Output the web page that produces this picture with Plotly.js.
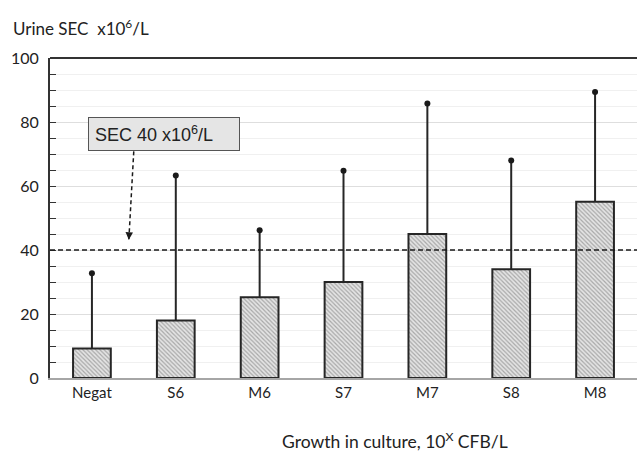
<!DOCTYPE html>
<html>
<head>
<meta charset="utf-8">
<script src="https://cdn.plot.ly/plotly-3.0.1.min.js"></script>
<style>html,body{margin:0;padding:0;background:#fff;}#chart{width:638px;height:452px;}</style>
</head>
<body>
<div id="chart"></div>
<script>
const categories = ["Negat", "S6", "M6", "S7", "M7", "S8", "M8"];
const meanValues = [9.2, 18, 25.2, 30, 45, 34, 55.1];
const upperValues = [32.7, 63.3, 46.2, 64.8, 85.8, 68, 89.4];
const thresholdValue = 40;
const yTicks = [0, 20, 40, 60, 80, 100];

const errPlus = upperValues.map((u, i) => u - meanValues[i]);

const barTrace = {
  type: "bar",
  x: categories,
  y: meanValues,
  width: 0.45,
  marker: {
    color: "#d9d9d9",
    line: { color: "#262626", width: 2 },
    pattern: { shape: "\\", fgcolor: "#a8a8a8", bgcolor: "#e4e4e4", size: 3, solidity: 0.4 }
  },
  error_y: {
    type: "data", symmetric: false, array: errPlus, arrayminus: categories.map(() => 0),
    width: 0, thickness: 2, color: "#262626"
  },
  hoverinfo: "none",
  showlegend: false
};

const dotTrace = {
  type: "scatter",
  mode: "markers",
  x: categories,
  y: upperValues,
  marker: { color: "#1a1a1a", size: 6 },
  hoverinfo: "none",
  showlegend: false,
  cliponaxis: false
};

const layout = {
  width: 638,
  height: 452,
  margin: { l: 50, r: 1, t: 58, b: 74 },
  paper_bgcolor: "#fff",
  plot_bgcolor: "#fff",
  font: { family: "Lato, 'Open Sans', sans-serif", color: "#222", size: 15 },
  xaxis: {
    type: "category",
    showline: true, linecolor: "#a6a6a6", linewidth: 2,
    ticks: "", showgrid: false, zeroline: false,
    tickfont: { size: 15, family: "Lato, 'Open Sans', sans-serif", color: "#222" },
    range: [-0.5, 6.5], fixedrange: true
  },
  yaxis: {
    range: [0, 100],
    tickvals: yTicks,
    ticks: "inside", ticklen: 6, tickcolor: "#333", tickwidth: 1,
    showline: true, linecolor: "#333", linewidth: 2,
    showgrid: true, gridcolor: "#dedede", gridwidth: 1,
    zeroline: false,
    tickfont: { size: 16, family: "Lato, 'Open Sans', sans-serif", color: "#222" },
    minor: { dtick: 5, tick0: 0, showgrid: true, gridcolor: "#f0f0f0", gridwidth: 1, ticks: "inside", ticklen: 6, tickcolor: "#333" },
    ticklabelstandoff: 6,
    fixedrange: true
  },
  shapes: [
    { type: "line", xref: "paper", x0: 0, x1: 1, yref: "y", y0: thresholdValue, y1: thresholdValue,
      line: { color: "#1a1a1a", width: 1.6, dash: "5px,3px" }, layer: "above" },
    { type: "line", xref: "paper", x0: 0, x1: 1, yref: "paper", y0: 1, y1: 1,
      line: { color: "#333", width: 2 } }
  ],
  annotations: [
    { text: "Urine SEC  x10<sup>6</sup>/L", xref: "paper", yref: "paper", x: -0.066, y: 1.094,
      xanchor: "left", yanchor: "middle", showarrow: false, font: { size: 17, family: "Lato, 'Open Sans', sans-serif", color: "#222" } },
    { text: "Growth in culture, 10<sup>X</sup> CFB/L", xref: "paper", yref: "paper", x: 0.587, y: -0.194,
      xanchor: "center", yanchor: "middle", showarrow: false, font: { size: 17.5, family: "Lato, 'Open Sans', sans-serif", color: "#222" } },
    { text: "SEC 40 x10<sup>6</sup>/L", xref: "paper", yref: "y", x: 0.064, y: 76.2,
      xanchor: "left", yanchor: "middle", showarrow: false,
      bgcolor: "#e5e5e5", bordercolor: "#555", borderwidth: 1, borderpad: 6, width: 138, height: 20, align: "left",
      font: { size: 18, family: "'Liberation Sans', Arial, sans-serif", color: "#222" } },
    { text: "", xref: "x", yref: "y", x: 0.44, y: 43.2, ax: 0.5, ay: 71.3, axref: "x", ayref: "y",
      showarrow: true, arrowhead: 2, arrowsize: 1, arrowwidth: 1.5, arrowcolor: "#1a1a1a",
      standoff: 0 }
  ]
};

Plotly.newPlot("chart", [barTrace, dotTrace], layout, { staticPlot: true, displayModeBar: false });

setTimeout(() => {
  document.querySelectorAll(".annotation-arrow-g path").forEach(p => {
    if (!p.getAttribute("d") || p.getAttribute("d").indexOf("Z") === -1) {
      p.style.strokeDasharray = "4px,3px";
    }
  });
}, 50);
</script>
</body>
</html>
